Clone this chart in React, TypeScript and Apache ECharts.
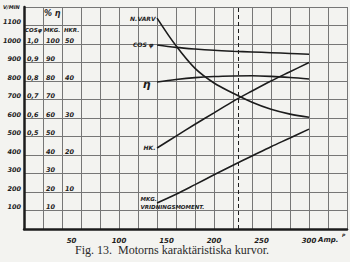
import React, { useEffect, useRef } from "react";
import * as echarts from "echarts";

// Load current in amperes
const amps = [140, 160, 180, 200, 220, 240, 260, 280, 300];
// Speed, rev/min
const varv = [1140, 990, 868, 789, 734, 685, 647, 621, 604];
// Power factor cos φ
const cosPhi = [0.995, 0.982, 0.973, 0.966, 0.961, 0.957, 0.953, 0.949, 0.945];
// Efficiency η, %
const eta = [79.5, 80.8, 81.8, 82.4, 82.7, 82.8, 82.5, 81.9, 81.1];
// Horse power
const hk = [21.9, 25.1, 28.3, 31.4, 34.5, 37.3, 40.0, 42.5, 45.0];
// Torque, mkg
const mkg = [14.1, 18.8, 24.0, 29.3, 34.5, 39.5, 44.5, 49.2, 54.0];

const xTickLabels = [50, 100, 150, 200, 250, 300];
const ratedCurrent = 225;

const INK = "#1c1c1c";
const GRIDC = "#767676";
const HAND = "DejaVu Sans";

function pts(ys: number[], label: any) {
  return amps.map((a, i) =>
    i === 0 ? { value: [a, ys[i]], label } : { value: [a, ys[i]] }
  );
}

export default function App() {
  const ref = useRef<HTMLDivElement>(null);
  useEffect(() => {
    if (!ref.current) return;
    const chart = echarts.init(ref.current, undefined, { renderer: "svg" });
    const handLabel = {
      fontFamily: HAND,
      fontStyle: "italic" as const,
      fontWeight: "bold" as const,
      fontSize: 6.5,
      color: INK,
    };
    const lineStyle = { color: INK, width: 1.6 };
    const base = {
      type: "line",
      xAxisIndex: 0,
      smooth: 0.35,
      showSymbol: true,
      symbol: "circle",
      symbolSize: 1,
      itemStyle: { color: "rgba(0,0,0,0)", borderWidth: 0 },
      lineStyle,
      emphasis: { disabled: true },
    };
    chart.setOption({
      animation: false,
      backgroundColor: "#f3f3f0",
      grid: { left: 24, right: 3, top: 7, bottom: 33, containLabel: false },
      xAxis: [
        {
          type: "value",
          min: 0,
          max: 340,
          interval: 20,
          axisLine: { show: true, lineStyle: { color: INK, width: 2.5 } },
          axisTick: { show: false },
          axisLabel: { show: false },
          splitLine: { show: true, lineStyle: { color: GRIDC, width: 1 } },
        },
        {
          type: "value",
          min: 0,
          max: 340,
          interval: 50,
          position: "bottom",
          offset: 0,
          axisLine: { show: false },
          axisTick: { show: false },
          splitLine: { show: false },
          axisLabel: {
            ...handLabel,
            fontSize: 7,
            margin: 8,
            showMaxLabel: false,
            formatter: (v: number) =>
              xTickLabels.indexOf(v) >= 0 ? String(v) : "",
          },
        },
      ],
      yAxis: [
        {
          type: "value",
          min: 0,
          max: 1200,
          interval: 100,
          position: "left",
          axisLine: { show: true, lineStyle: { color: INK, width: 2.5 } },
          axisTick: { show: false },
          splitLine: { show: true, lineStyle: { color: GRIDC, width: 1 } },
          axisLabel: {
            ...handLabel,
            fontSize: 6.5,
            margin: 3,
            verticalAlign: "bottom",
            formatter: (v: number) => (v > 0 && v <= 1100 ? String(v) : ""),
          },
        },
        {
          type: "value",
          min: 0,
          max: 1.2,
          interval: 0.1,
          position: "left",
          offset: 0,
          axisLine: { show: false },
          axisTick: { show: false },
          splitLine: { show: false },
          axisLabel: {
            ...handLabel,
            inside: true,
            margin: 3,
            verticalAlign: "bottom",
            formatter: (v: number) =>
              v > 0.45 && v < 1.05 ? v.toFixed(1).replace(".", ",") : "",
          },
        },
        {
          type: "value",
          min: 0,
          max: 120,
          interval: 10,
          position: "left",
          offset: -19,
          axisLine: { show: false },
          axisTick: { show: false },
          splitLine: { show: false },
          axisLabel: {
            ...handLabel,
            inside: true,
            margin: 3,
            verticalAlign: "bottom",
            formatter: (v: number) =>
              v > 5 && v < 105 ? String(Math.round(v)) : "",
          },
        },
        {
          type: "value",
          min: 0,
          max: 60,
          interval: 5,
          position: "left",
          offset: -38,
          axisLine: { show: false },
          axisTick: { show: false },
          splitLine: { show: false },
          axisLabel: {
            ...handLabel,
            inside: true,
            margin: 3,
            verticalAlign: "bottom",
            formatter: (v: number) =>
              v > 5 && v < 55 && Math.round(v) % 10 === 0
                ? String(Math.round(v))
                : "",
          },
        },
      ],
      series: [
        {
          ...base,
          name: "N.VARV",
          yAxisIndex: 0,
          data: pts(varv, {
            show: true,
            position: "left",
            distance: 1,
            formatter: "N.VARV",
            ...handLabel,
            fontSize: 6,
          }),
          markLine: {
            silent: true,
            symbol: ["none", "none"],
            label: { show: false },
            lineStyle: { color: INK, width: 1, type: [4, 3] },
            data: [{ xAxis: ratedCurrent }],
          },
        },
        {
          ...base,
          name: "COS φ",
          yAxisIndex: 1,
          data: pts(cosPhi, {
            show: true,
            position: "left",
            distance: 3,
            formatter: "COS φ",
            ...handLabel,
            fontSize: 6,
          }),
        },
        {
          ...base,
          name: "η",
          yAxisIndex: 2,
          data: pts(eta, {
            show: true,
            position: "left",
            distance: 6,
            offset: [0, 3],
            formatter: "η",
            ...handLabel,
            fontSize: 11,
          }),
        },
        {
          ...base,
          name: "HK.",
          yAxisIndex: 3,
          data: pts(hk, {
            show: true,
            position: "left",
            distance: 1,
            formatter: "HK.",
            ...handLabel,
            fontSize: 6,
          }),
        },
        {
          ...base,
          name: "MKG.",
          yAxisIndex: 2,
          data: pts(mkg, {
            show: true,
            position: [-16, -7],
            align: "left",
            verticalAlign: "top",
            lineHeight: 8,
            formatter: "MKG.\nVRIDNINGSMOMENT.",
            ...handLabel,
            fontSize: 5.5,
          }),
        },
      ],
      graphic: [
        {
          type: "text",
          left: 3,
          top: 4,
          style: { text: "V/MIN", ...handLabel, fontSize: 5, fill: INK },
        },
        {
          type: "text",
          left: 44,
          top: 9,
          style: { text: "% η", ...handLabel, fontSize: 8, fill: INK },
        },
        {
          type: "text",
          left: 25,
          top: 27,
          style: { text: "COSφ", ...handLabel, fontSize: 5.5, fill: INK },
        },
        {
          type: "text",
          left: 44,
          top: 27,
          style: { text: "MKG.", ...handLabel, fontSize: 5.5, fill: INK },
        },
        {
          type: "text",
          left: 64,
          top: 27,
          style: { text: "HKR.", ...handLabel, fontSize: 5.5, fill: INK },
        },
        {
          type: "text",
          left: 318,
          top: 236,
          style: { text: "Amp.", ...handLabel, fontSize: 7, fill: INK },
        },
        {
          type: "text",
          left: 342,
          top: 233,
          style: { text: "P", ...handLabel, fontSize: 4.5, fill: INK },
        },
        {
          type: "text",
          left: 75,
          top: 244,
          style: {
            text: "Fig. 13.  Motorns karaktäristiska kurvor.",
            fontFamily: "Liberation Serif",
            fontSize: 12,
            fill: "#2a2a2a",
          },
        },
      ],
    });
    return () => chart.dispose();
  }, []);
  return (
    <div
      ref={ref}
      style={{ position: "absolute", left: 0, top: 0, width: 350, height: 262 }}
    />
  );
}
